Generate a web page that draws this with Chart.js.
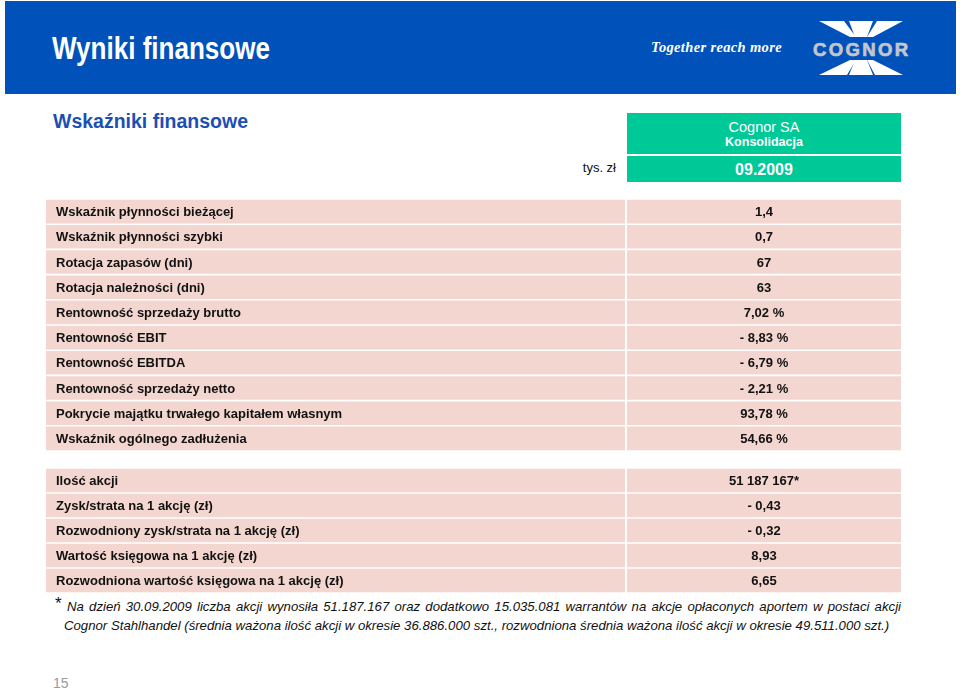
<!DOCTYPE html>
<html lang="pl">
<head>
<meta charset="utf-8">
<script src="https://cdn.jsdelivr.net/npm/chart.js@4/dist/chart.umd.min.js"></script>
<style>
  html, body { margin:0; padding:0; background:#fff; }
  body { width:960px; height:691px; position:relative; overflow:hidden; font-family:"Liberation Sans", Arial, sans-serif; }
  .abs { position:absolute; }
  #band { left:5px; top:1px; width:951px; height:93px; background:#0052BA; }
  #title { left:52px; top:31px; color:#fff; font-family:"Liberation Sans", Arial, sans-serif; font-weight:bold; font-size:31px; line-height:36px; white-space:nowrap; transform-origin:0 0; }
  #slogan { left:651px; top:39px; color:#fff; font-family:"Liberation Serif","DejaVu Serif",serif; font-style:italic; font-weight:bold; font-size:14.5px; letter-spacing:0.35px; white-space:nowrap; }
  #subtitle { left:53px; top:110px; color:#1C4FB4; font-size:19.5px; font-weight:bold; white-space:nowrap; }
  #unit { left:560px; top:160px; width:56px; text-align:right; font-size:13px; color:#111; }
  .green { background:#00C998; color:#fff; text-align:center; }
  #hdr1 { left:627px; top:113px; width:274px; height:41px; }
  #hdr1 .a { font-size:14.5px; margin-top:6px; line-height:16px; }
  #hdr1 .b { font-size:12.5px; font-weight:bold; line-height:15px; }
  #hdr2 { left:627px; top:156px; width:274px; height:26px; font-size:16px; font-weight:bold; line-height:27px; }
  #note { left:55px; top:597px; width:846px; font-size:13.2px; font-style:italic; color:#111; line-height:19px; }
  #note .star { position:absolute; left:0; top:-3px; font-size:17px; font-style:normal; }
  #note p { margin:0; padding-left:11px; text-align:justify; text-align-last:left; }
  #note p.l1 { text-align-last:justify; padding-left:12px; }
  #note p.l2 { padding-left:9px; }
  #page { left:53px; top:675px; font-size:14px; color:#9a9a9a; }
</style>
</head>
<body>
<div id="band" class="abs"></div>
<div id="title" class="abs">Wyniki finansowe</div>
<div id="slogan" class="abs">Together reach more</div>
<svg class="abs" style="left:0;top:0" width="960" height="100" viewBox="0 0 960 100">
  <g fill="#ffffff">
    <polygon points="819,21 844,21 856,37 850,37"/>
    <polygon points="849,21 873,21 867,37 855,37"/>
    <polygon points="877,21 903,21 873,37 867,37"/>
    <polygon points="850,60 856,60 847,75 819,75"/>
    <polygon points="855,60 867,60 873,75 849,75"/>
    <polygon points="867,60 873,60 903,75 875,75"/>
  </g>
  <text x="813" y="55.5" fill="#C4C6CC" stroke="#C4C6CC" stroke-width="0.7" font-family="Liberation Sans, Arial, sans-serif" font-weight="bold" font-size="18.5" textLength="95" lengthAdjust="spacing">COGNOR</text>
</svg>

<div id="subtitle" class="abs">Wskaźniki finansowe</div>
<div id="unit" class="abs">tys. zł</div>
<div id="hdr1" class="abs green"><div class="a">Cognor SA</div><div class="b">Konsolidacja</div></div>
<div id="hdr2" class="abs green">09.2009</div>

<canvas id="c1" class="abs" style="left:46px;top:199px;"></canvas>
<canvas id="c2" class="abs" style="left:46px;top:468px;"></canvas>

<div id="note" class="abs">
  <span class="star">*</span>
  <p class="l1">Na dzień 30.09.2009 liczba akcji wynosiła 51.187.167 oraz dodatkowo 15.035.081 warrantów na akcje opłaconych aportem w postaci akcji</p>
  <p class="l2">Cognor Stahlhandel (średnia ważona ilość akcji w okresie 36.886.000 szt., rozwodniona średnia ważona ilość akcji w okresie 49.511.000 szt.)</p>
</div>
<div id="page" class="abs">15</div>

<script>
// ---- data ----
const ratioLabels = [
  "Wskaźnik płynności bieżącej",
  "Wskaźnik płynności szybki",
  "Rotacja zapasów (dni)",
  "Rotacja należności (dni)",
  "Rentowność sprzedaży brutto",
  "Rentowność EBIT",
  "Rentowność EBITDA",
  "Rentowność sprzedaży netto",
  "Pokrycie majątku trwałego kapitałem własnym",
  "Wskaźnik ogólnego zadłużenia"
];
const ratioValues = ["1,4", "0,7", "67", "63", "7,02 %", "- 8,83 %", "- 6,79 %", "- 2,21 %", "93,78 %", "54,66 %"];

const shareLabels = [
  "Ilość akcji",
  "Zysk/strata na 1 akcję (zł)",
  "Rozwodniony zysk/strata na 1 akcję (zł)",
  "Wartość księgowa na 1 akcję (zł)",
  "Rozwodniona wartość księgowa na 1 akcję (zł)"
];
const shareValues = ["51 187 167*", "- 0,43", "- 0,32", "8,93", "6,65"];

// ---- layout constants (not data) ----
const TABLE_W = 855;
const LEFT_END = 579;
const RIGHT_START = 581;
const ROW_PITCH_1 = 25.2;
const ROW_PITCH_2 = 25.0;
const CELL_COLOR = "#F2D6CF";

// narrow title to match the condensed face of the original
(function () {
  const t = document.getElementById("title");
  const w = t.getBoundingClientRect().width;
  t.style.transform = "scaleX(" + (218 / w) + ")";
})();

const textPlugin = {
  id: "cellText",
  afterDatasetsDraw(chart, args, opts) {
    const ctx = chart.ctx;
    const xs = chart.scales.x, ys = chart.scales.y;
    const labels = chart.data.labels;
    const vals = opts.values;
    ctx.save();
    ctx.fillStyle = "#111";
    ctx.font = "bold 13px 'Liberation Sans', Arial, sans-serif";
    ctx.textBaseline = "middle";
    const xl = xs.getPixelForValue(10);
    const xc = xs.getPixelForValue((RIGHT_START + TABLE_W) / 2);
    labels.forEach((lab, i) => {
      const y = ys.getPixelForValue(i) + 1;
      ctx.textAlign = "left";
      ctx.fillText(lab, xl, y);
      ctx.textAlign = "center";
      ctx.fillText(vals[i], xc, y);
    });
    ctx.restore();
  }
};

function makeTable(id, labels, values, pitch) {
  const cv = document.getElementById(id);
  const h = Math.round(labels.length * pitch);
  cv.width = TABLE_W; cv.height = h;
  cv.style.width = TABLE_W + "px"; cv.style.height = h + "px";
  const gap = 1.6;
  return new Chart(cv, {
    type: "bar",
    data: {
      labels: labels,
      datasets: [
        { data: labels.map(() => [0, LEFT_END]), backgroundColor: CELL_COLOR, borderWidth: 0 },
        { data: labels.map(() => [RIGHT_START, TABLE_W]), backgroundColor: CELL_COLOR, borderWidth: 0 }
      ]
    },
    options: {
      indexAxis: "y",
      responsive: false,
      animation: false,
      devicePixelRatio: 1,
      grouped: false,
      categoryPercentage: 1,
      barPercentage: (pitch - gap) / pitch,
      layout: { padding: 0 },
      events: [],
      scales: {
        x: { type: "linear", min: 0, max: TABLE_W, display: false },
        y: { type: "category", display: false, offset: true }
      },
      plugins: {
        legend: { display: false },
        tooltip: { enabled: false },
        cellText: { values: values }
      }
    },
    plugins: [textPlugin]
  });
}

makeTable("c1", ratioLabels, ratioValues, ROW_PITCH_1);
makeTable("c2", shareLabels, shareValues, ROW_PITCH_2);
</script>
</body>
</html>
